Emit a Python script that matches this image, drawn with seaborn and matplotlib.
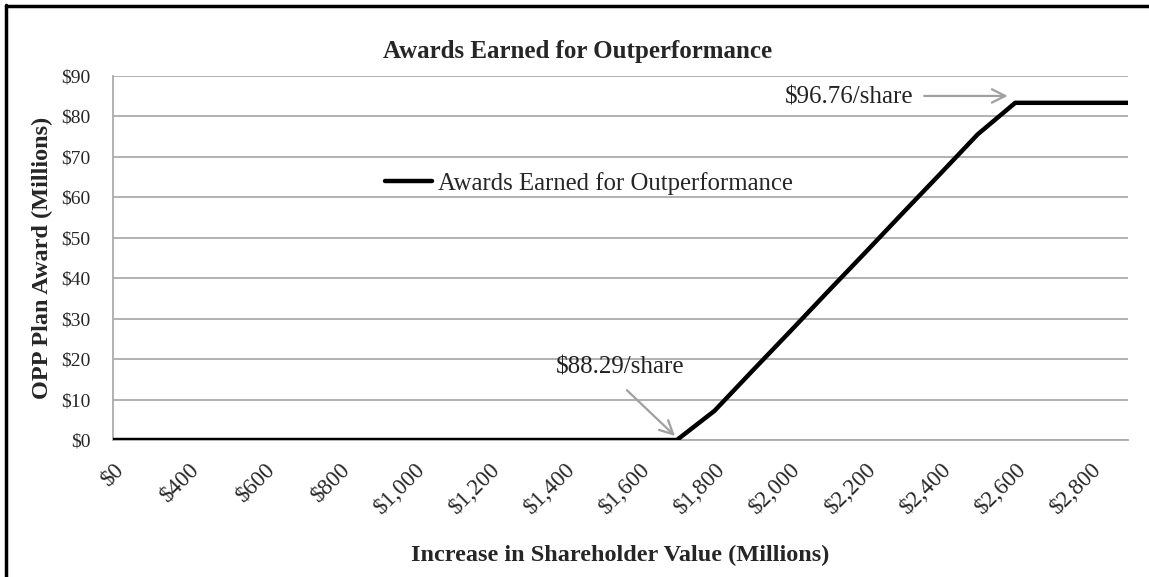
import numpy as np
import pandas as pd
import matplotlib.pyplot as plt
import seaborn as sns

# shareholder value categories (millions) and award earned (millions)
shareholder_value = [0, 300, 400, 500, 600, 700, 800, 900, 1000, 1100, 1200, 1300, 1400,
                     1500, 1600, 1700, 1800, 1900, 2000, 2100, 2200, 2300, 2400, 2500,
                     2600, 2700, 2800, 2900]
award = [0, 0, 0, 0, 0, 0, 0, 0, 0, 0, 0, 0, 0, 0, 0, 0,
         7.2, 17.0, 26.7, 36.5, 46.2, 56.0, 65.7, 75.5, 83.3, 83.3, 83.3, 83.3]
labeled_values = [0, 400, 600, 800, 1000, 1200, 1400, 1600, 1800, 2000, 2200, 2400, 2600, 2800]

df = pd.DataFrame({'pos': np.arange(len(shareholder_value)),
                   'value': shareholder_value,
                   'award': award})

sns.set_style('white')
plt.rcParams['font.family'] = ['Liberation Serif', 'DejaVu Serif']

fig = plt.figure(figsize=(11.49, 5.77), dpi=100)
ax = fig.add_axes([113/1149, 1 - 440/577, 1015/1149, (440 - 75.7)/577])

grid_color = '#ababab'
ax.set_ylim(0, 90)
ax.set_xlim(0, len(shareholder_value) - 1)
ax.set_yticks(range(0, 91, 10))
ax.set_yticklabels([f'${v}' for v in range(0, 91, 10)], fontsize=14)
ax.yaxis.grid(True, color=grid_color, linewidth=1.3)
ax.set_axisbelow(True)

sns.lineplot(data=df, x='pos', y='award', color='black', linewidth=3.2,
             label='Awards Earned for Outperformance', ax=ax, zorder=3)

# ticks at every category, labels on every other
ax.set_xticks(df['pos'])
tick_labels = [f'${v:,}' if v in labeled_values else '' for v in shareholder_value]
ax.set_xticklabels(tick_labels, rotation=45, ha='right', rotation_mode='anchor', fontsize=16.5)

for side in ['top', 'right']:
    ax.spines[side].set_visible(False)
for side in ['left', 'bottom']:
    ax.spines[side].set_color(grid_color)
    ax.spines[side].set_linewidth(1.3)
ax.tick_params(axis='both', which='major', length=5, color=grid_color, width=1, direction='out')
ax.tick_params(axis='x', pad=9)
ax.tick_params(axis='y', pad=11)

ax.set_title('Awards Earned for Outperformance', fontsize=18, fontweight='bold', pad=13, x=0.458)
ax.set_xlabel('Increase in Shareholder Value (Millions)', fontsize=17.5, fontweight='bold', labelpad=19)
ax.set_ylabel('OPP Plan Award (Millions)', fontsize=17.5, fontweight='bold', labelpad=6)

ax.legend(loc='center left', bbox_to_anchor=(0.268, 0.704), frameon=False, fontsize=17.8,
          handlelength=1.9, handletextpad=0.25, borderaxespad=0, borderpad=0)

# annotations
text_color = '#222222'
arrow_style = dict(arrowstyle='->', color='#a0a0a0', lw=1.6, mutation_scale=24,
                   shrinkA=0, shrinkB=0)
ax.text(13.5, 17.8, '$88.29/share', fontsize=18, color=text_color, ha='center', va='center')
ax.annotate('', xy=(14.95, 1.0), xytext=(13.67, 12.3), arrowprops=arrow_style)
ax.text(21.3, 84.7, '$96.76/share', fontsize=18, color=text_color, ha='right', va='center')
ax.annotate('', xy=(23.8, 85.0), xytext=(21.58, 85.0), arrowprops=arrow_style)

# outer frame lines (left and top)
fig.add_artist(plt.Line2D([6/1149, 6/1149], [0, 1 - 5/577], color='black', linewidth=2.5))
fig.add_artist(plt.Line2D([6/1149, 1], [1 - 6/577, 1 - 6/577], color='black', linewidth=2.5))

fig.savefig('out.png', dpi=100)
